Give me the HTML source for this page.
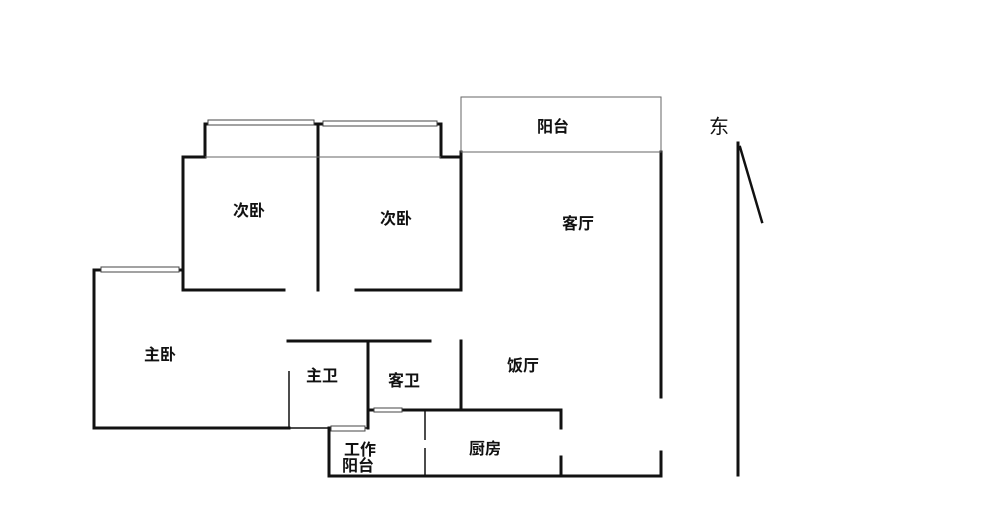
<!DOCTYPE html>
<html><head><meta charset="utf-8"><style>
html,body{margin:0;padding:0;background:#fff;}
svg{display:block}
text{font-family:"Liberation Sans","Noto Sans CJK SC",sans-serif;font-size:16px;font-weight:bold;fill:#111;text-anchor:middle;dominant-baseline:middle}
</style></head><body>
<svg width="1000" height="523" viewBox="0 0 1000 523" xmlns="http://www.w3.org/2000/svg">
<g stroke="#111" stroke-width="3" fill="none" stroke-linecap="square">
<!-- top bedrooms -->
<polyline points="284,290 183,290 183,157 205,157 205,124 441,124 441,157 461,157 461,290 356,290"/>
<line x1="318" y1="124" x2="318" y2="290"/>
<!-- master bedroom -->
<polyline points="183,270 94,270 94,428 289,428"/>
<!-- living left wall -->
<line x1="461" y1="152" x2="461" y2="157"/>
<!-- bathrooms -->
<line x1="288" y1="341" x2="430" y2="341"/>
<line x1="368" y1="341" x2="368" y2="428"/>
<line x1="461" y1="341" x2="461" y2="410"/>
<polyline points="368,410 561,410 561,428"/>
<line x1="561" y1="457" x2="561" y2="476"/>
<polyline points="329,428 329,476 661,476 661,452"/>
<line x1="661" y1="152" x2="661" y2="397"/>
<!-- north marker -->
<line x1="738" y1="143" x2="738" y2="475"/>
<line x1="740" y1="147" x2="762" y2="222" stroke-width="2.5"/>
</g>
<g stroke="#111" stroke-width="1.5" fill="none">
<line x1="289" y1="371" x2="289" y2="428"/>
<line x1="289" y1="428" x2="368" y2="428"/>
<line x1="425" y1="410" x2="425" y2="440"/>
<line x1="425" y1="448" x2="425" y2="476"/>
<line x1="205" y1="157" x2="441" y2="157" stroke="#666" stroke-width="1"/>
</g>
<rect x="461" y="97" width="200" height="55" fill="none" stroke="#666" stroke-width="1"/>
<!-- windows -->
<g fill="#fff" stroke="#444" stroke-width="1">
<rect x="208" y="120" width="106" height="5"/>
<rect x="323" y="121" width="114" height="5"/>
<rect x="101" y="267" width="78" height="5"/>
<rect x="374" y="408" width="28" height="4"/>
<rect x="331" y="426" width="34" height="5"/>
</g>
<text x="553" y="128">阳台</text>
<text x="578" y="225">客厅</text>
<text x="249" y="212">次卧</text>
<text x="396" y="220">次卧</text>
<text x="160" y="356">主卧</text>
<text x="322" y="377">主卫</text>
<text x="404" y="382">客卫</text>
<text x="523" y="367">饭厅</text>
<text x="485" y="450">厨房</text>
<text x="360" y="451">工作</text>
<text x="358" y="467">阳台</text>
<text x="719" y="128" style="font-size:20px;font-weight:normal">东</text>
</svg>
</body></html>
